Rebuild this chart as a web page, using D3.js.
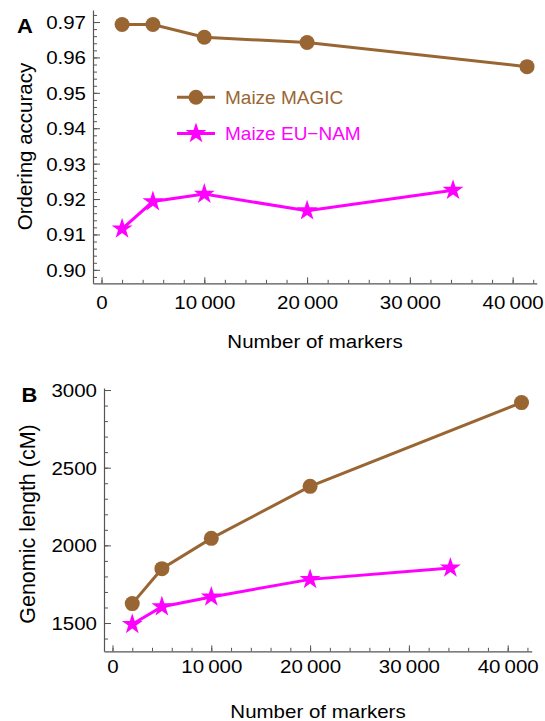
<!DOCTYPE html>
<html><head><meta charset="utf-8">
<script src="https://cdn.jsdelivr.net/npm/d3@7"></script>
<style>
body{margin:0;background:#fff;}
svg{display:block;font-family:"Liberation Sans",Arial,sans-serif;}
</style></head>
<body>
<svg id="chart" width="545" height="721"></svg>
<script>
// ---- data ----
const markersMAGIC = [2000, 5000, 10000, 20000, 41400];
const markersEUNAM = [2000, 5000, 10000, 20000, 34200];
const accuracyMAGIC = [0.9693, 0.9693, 0.9657, 0.9642, 0.9574];
const accuracyEUNAM = [0.9116, 0.9193, 0.9214, 0.9167, 0.9225];
const lengthMAGIC = [1625, 1850, 2045, 2380, 2919];
const lengthEUNAM = [1492, 1605, 1668, 1781, 1855];
const seriesNames = ["Maize MAGIC", "Maize EU\u2212NAM"];
const xTicks = [0, 10000, 20000, 30000, 40000];
const yTicksA = [0.90, 0.91, 0.92, 0.93, 0.94, 0.95, 0.96, 0.97];
const yTicksB = [1500, 2000, 2500, 3000];

const BROWN = "#996633", MAG = "#ff00ff", AX = "#555";
const SQ = 0.88;
const STAR = 135;
const svg = d3.select("#chart");

const xfmt = d => d === 0 ? "0" : d3.format(",")(d).replace(",", "\u2009");

function hText(g, x, y, str, opts) {
  const t = g.append("g").attr("transform", `translate(${x},${y}) scale(1,${opts.sq || 1})`)
    .append("text").text(str)
    .attr("font-size", opts.size).attr("text-anchor", opts.anchor || "start")
    .attr("fill", opts.fill || "#000");
  if (opts.bold) t.attr("font-weight", "bold");
  return t;
}

function panel(cfg) {
  const g = svg.append("g");
  const x = d3.scaleLinear().domain(cfg.xd).range(cfg.xr);
  const y = d3.scaleLinear().domain(cfg.yd).range(cfg.yr);
  const x0 = cfg.xr[0], y0 = cfg.yr[0];

  // minor ticks
  g.append("g").attr("transform", `translate(0,${y0})`)
    .call(d3.axisBottom(x).tickValues(d3.range(0, cfg.xd[1], 2000)).tickSizeInner(-3.5).tickSizeOuter(0).tickFormat(""))
    .call(s => { s.select(".domain").remove(); s.selectAll("line").attr("stroke", AX); });
  g.append("g").attr("transform", `translate(${x0},0)`)
    .call(d3.axisLeft(y).tickValues(cfg.yMinor).tickSizeInner(-4).tickSizeOuter(0).tickFormat(""))
    .call(s => { s.select(".domain").remove(); s.selectAll("line").attr("stroke", AX); });

  // major x axis
  const gx = g.append("g").attr("transform", `translate(0,${y0})`)
    .call(d3.axisBottom(x).tickValues(xTicks).tickSizeInner(-6).tickSizeOuter(0).tickFormat(xfmt));
  gx.select(".domain").attr("stroke", AX).attr("stroke-width", 1.2);
  gx.selectAll("line").attr("stroke", AX);
  gx.selectAll("text").attr("font-size", 20.5).attr("fill", "#000")
    .attr("font-family", '"Liberation Sans",Arial,sans-serif')
    .attr("y", cfg.xLabOff / SQ).attr("dy", 0).attr("transform", `scale(1,${SQ})`);

  // major y axis
  const gy = g.append("g").attr("transform", `translate(${x0},0)`)
    .call(d3.axisLeft(y).tickValues(cfg.yTicks).tickSizeInner(-7).tickSizeOuter(0).tickPadding(7).tickFormat(cfg.yfmt));
  gy.select(".domain").attr("stroke", AX).attr("stroke-width", 1.2);
  gy.selectAll("line").attr("stroke", AX);
  gy.selectAll("text").attr("font-size", 20.5).attr("fill", "#000")
    .attr("font-family", '"Liberation Sans",Arial,sans-serif')
    .attr("dy", "0.36em").attr("transform", `scale(1,${SQ})`);

  // series
  const line = d3.line().x(d => x(d[0])).y(d => y(d[1]));
  const s1 = markersMAGIC.map((m, i) => [m, cfg.v1[i]]);
  const s2 = markersEUNAM.map((m, i) => [m, cfg.v2[i]]);
  g.append("path").attr("d", line(s1)).attr("fill", "none").attr("stroke", BROWN).attr("stroke-width", 3);
  g.append("path").attr("d", line(s2)).attr("fill", "none").attr("stroke", MAG).attr("stroke-width", 3);
  g.selectAll(".c").data(s1).join("circle").attr("cx", d => x(d[0])).attr("cy", d => y(d[1]))
    .attr("r", 7.5).attr("fill", BROWN);
  const star = d3.symbol().type(d3.symbolStar).size(STAR);
  g.selectAll(".s").data(s2).join("path").attr("d", star)
    .attr("transform", d => `translate(${x(d[0])},${y(d[1])})`).attr("fill", MAG);

  // titles
  hText(g, cfg.letter[0], cfg.letter[1], cfg.letterText, {size: 22, bold: true, anchor: "middle", sq: 0.9});
  hText(g, cfg.xTitle[0], cfg.xTitle[1], "Number of markers", {size: 20.5, anchor: "middle", sq: SQ});
  g.append("text").attr("transform", `translate(${cfg.yTitle[0]},${cfg.yTitle[1]}) rotate(-90)`)
    .attr("text-anchor", "middle").attr("font-size", cfg.yTitleSize).text(cfg.yTitleText);
  return {g, x, y};
}

panel({
  xd: [-830, 42340], xr: [93, 536.7],
  yd: [0.8962, 0.9734], yr: [283.3, 10],
  yTicks: yTicksA, yMinor: d3.range(0.898, 0.9735, 0.002),
  yfmt: d3.format(".2f"), xLabOff: 26,
  v1: accuracyMAGIC, v2: accuracyEUNAM,
  letter: [25, 33], letterText: "A",
  xTitle: [315, 347.5], yTitle: [31.5, 146.5], yTitleSize: 20.5, yTitleText: "Ordering accuracy"
});

panel({
  xd: [-860, 42430], xr: [104, 531.7],
  yd: [1318, 3013], yr: [651.3, 388],
  yTicks: yTicksB, yMinor: d3.range(1400, 3001, 100),
  yfmt: d3.format("d"), xLabOff: 22,
  v1: lengthMAGIC, v2: lengthEUNAM,
  letter: [29.5, 401.7], letterText: "B",
  xTitle: [318, 718.3], yTitle: [35, 524], yTitleSize: 21.5, yTitleText: "Genomic length (cM)"
});

// legend (panel A)
const leg = svg.append("g");
const legRows = [{name: seriesNames[0], col: BROWN, y: 97.3, mark: "circle"},
                 {name: seriesNames[1], col: MAG, y: 133.5, mark: "star"}];
legRows.forEach(r => {
  leg.append("line").attr("x1", 177).attr("x2", 215).attr("y1", r.y).attr("y2", r.y)
    .attr("stroke", r.col).attr("stroke-width", 3);
  if (r.mark === "circle") leg.append("circle").attr("cx", 196).attr("cy", r.y).attr("r", 7.5).attr("fill", r.col);
  else leg.append("path").attr("d", d3.symbol().type(d3.symbolStar).size(STAR)())
    .attr("transform", `translate(196,${r.y})`).attr("fill", r.col);
  leg.append("text").attr("x", 225).attr("y", r.y + 6.5).attr("font-size", 19).attr("fill", r.col).text(r.name);
});
</script>
</body></html>
